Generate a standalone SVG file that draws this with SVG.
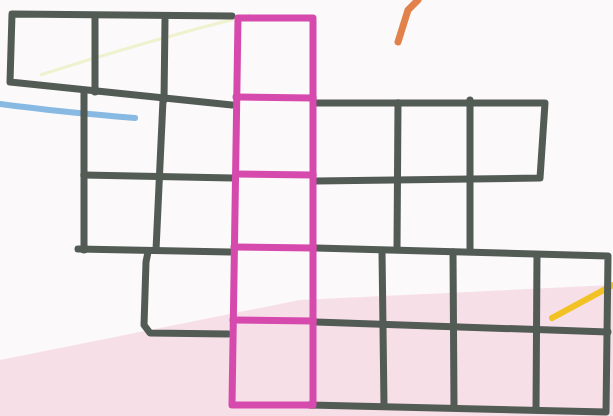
<svg xmlns="http://www.w3.org/2000/svg" width="613" height="416" viewBox="0 0 613 416">
<style>
.g{fill:none;stroke:#535b55;stroke-width:7;stroke-linecap:round;stroke-linejoin:round}
.p{fill:none;stroke:#d64aae;stroke-width:7;stroke-linecap:round;stroke-linejoin:round}
</style>
<rect width="613" height="416" fill="#fbf9fa"/>
<g id="crayon">
<path d="M0,360 L150,330 L300,300 L613,285 L613,416 L0,416 Z" fill="#f1bfd0" opacity="0.45"/>
<path d="M0,104 Q60,112 135,118" fill="none" stroke="#6aa9dc" stroke-width="6" stroke-linecap="round" opacity="0.8"/>
<path d="M398,42 L408,10 L418,0" fill="none" stroke="#e2814a" stroke-width="7" stroke-linecap="round"/>
<path d="M552,318 Q585,300 613,285" fill="none" stroke="#f2c224" stroke-width="6" stroke-linecap="round"/>
<path d="M40,75 Q150,40 250,15" fill="none" stroke="#e8ecb0" stroke-width="3" opacity="0.6"/>
</g>
<g id="grid-left">
<path class="g" d="M232,16 L12,14 L10,82 L232,105"/>
<path class="g" d="M95,18 L95,92 M165,20 L164,100"/>
<path class="g" d="M84,92 L84,250 M163,100 L156,250"/>
<path class="g" d="M84,175 L232,178 M78,249 L230,252"/>
<path class="g" d="M148,252 L146,262 L144,325 L150,333 L228,334"/>
</g>
<g id="grid-right">
<path class="g" d="M316,103 L545,103 L540,178 L316,181"/>
<path class="g" d="M398,103 L397,248 M470,100 L470,250"/>
<path class="g" d="M316,248 L608,256 L606,412 L310,405"/>
<path class="g" d="M316,322 L608,332"/>
<path class="g" d="M382,251 L384,405 M453,252 L454,407 M537,255 L536,410"/>
</g>
<g id="pink-column">
<path class="p" d="M238,18 L313,18 L313,405 L232,405 Z"/>
<path class="p" d="M236,97 L313,98 M236,174 L313,175 M234,247 L313,248 M233,320 L313,321"/>
</g>
</svg>
